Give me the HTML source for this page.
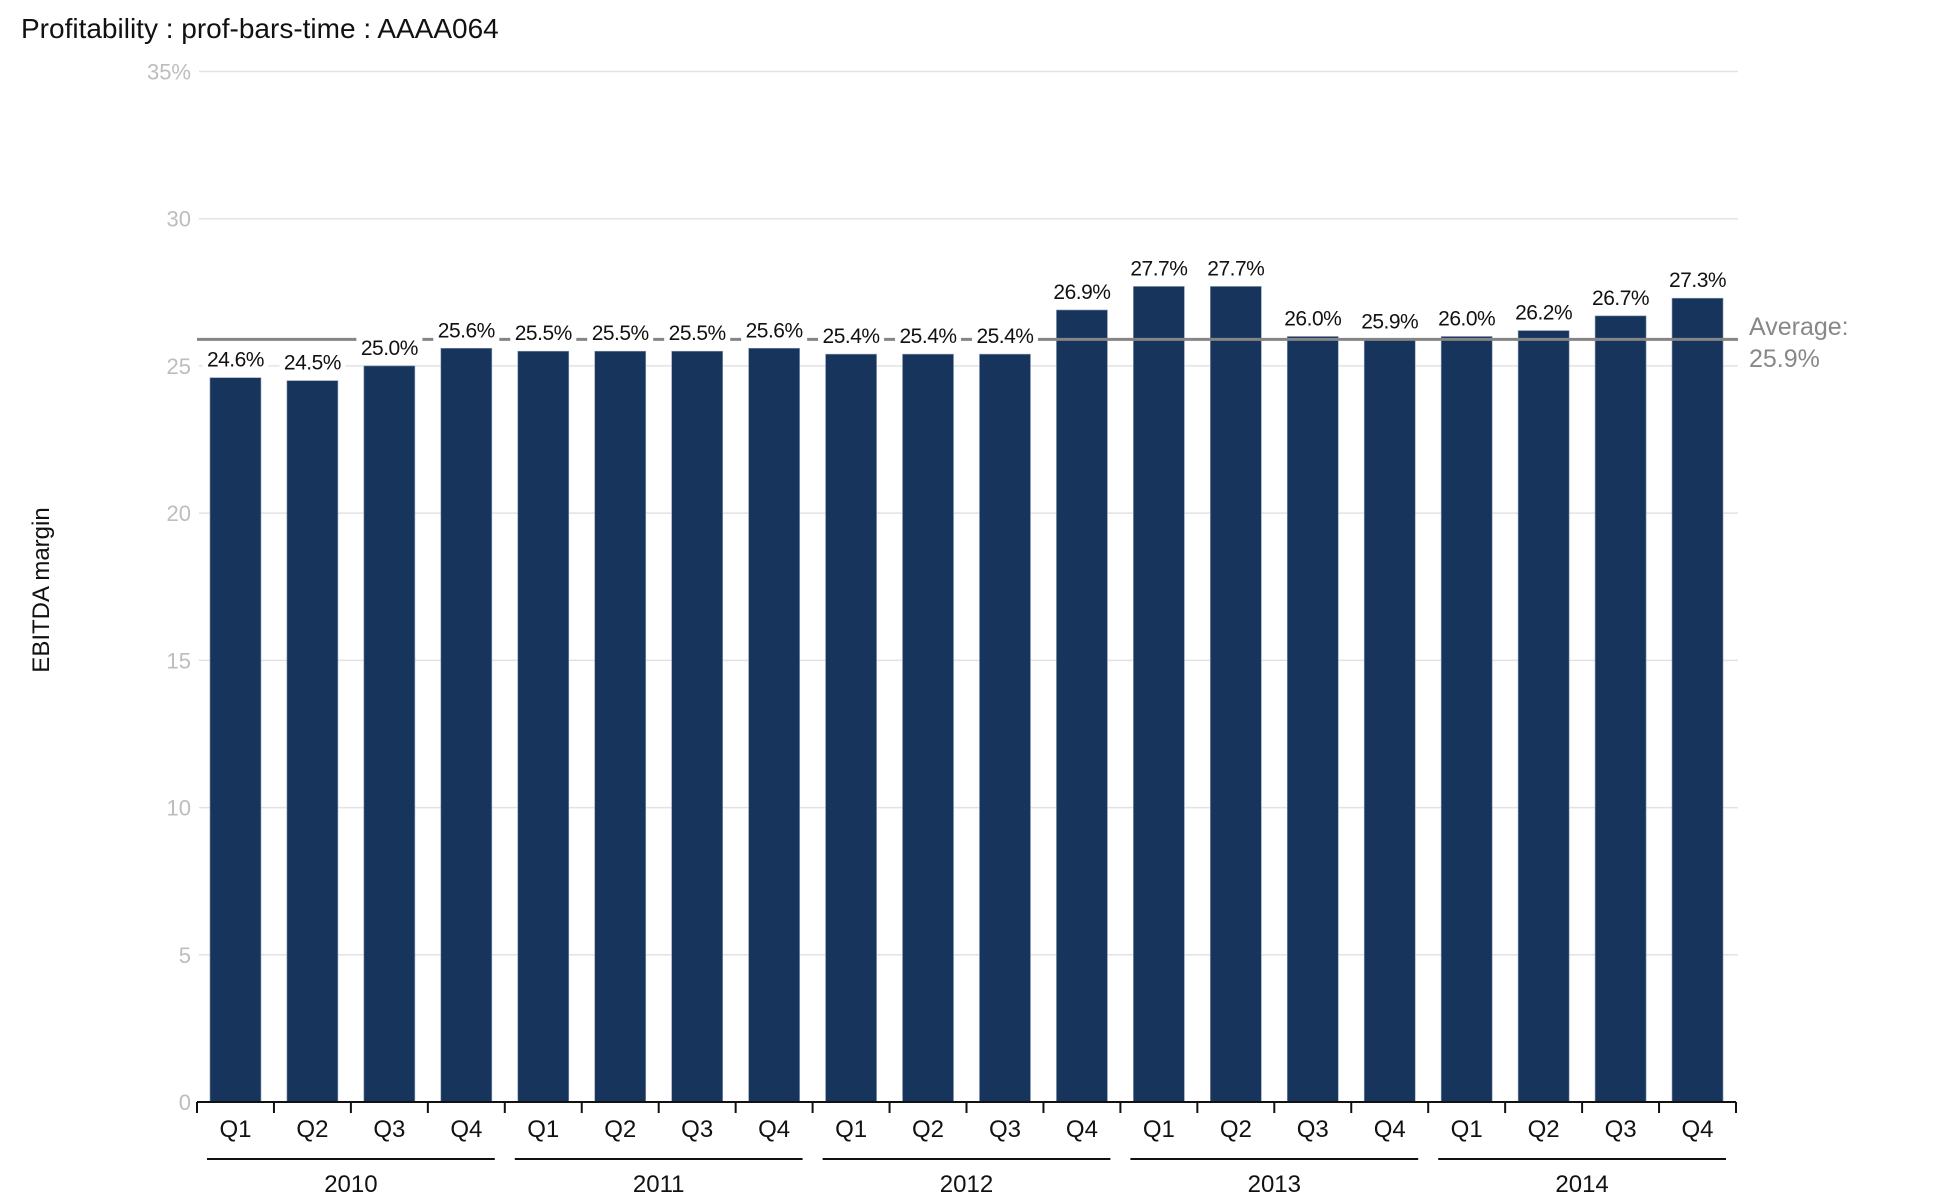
<!DOCTYPE html>
<html><head><meta charset="utf-8"><style>
html,body{margin:0;padding:0;background:#fff;}
svg{display:block;font-family:"Liberation Sans",sans-serif;}
</style></head><body>
<svg id="chart" width="1951" height="1204" viewBox="0 0 1951 1204" xmlns="http://www.w3.org/2000/svg">
<text x="21" y="38" font-size="28" fill="#111">Profitability : prof-bars-time : AAAA064</text>
<text transform="translate(49,590) rotate(-90)" text-anchor="middle" font-size="24" fill="#111">EBITDA margin</text>
<g id="grid"></g><g id="bars"></g><g id="avg"></g><g id="labels"></g><g id="xaxis"></g>
</svg>
<script>
const quarters=["Q1","Q2","Q3","Q4","Q1","Q2","Q3","Q4","Q1","Q2","Q3","Q4","Q1","Q2","Q3","Q4","Q1","Q2","Q3","Q4"];
const years=["2010","2011","2012","2013","2014"];
const values=[24.6,24.5,25.0,25.6,25.5,25.5,25.5,25.6,25.4,25.4,25.4,26.9,27.7,27.7,26.0,25.9,26.0,26.2,26.7,27.3];
const yTicks=[0,5,10,15,20,25,30,35];
const yTickLabels=["0","5","10","15","20","25","30","35%"];
const average=25.9;

const NS="http://www.w3.org/2000/svg";
const X0=197,X1=1736,Y0=1102,Ytop=71.5,YMAX=35;
const slot=(X1-X0)/values.length;
const y=v=>Y0-(v/YMAX)*(Y0-Ytop);
const xc=i=>X0+slot*(i+0.5);
function mk(tag,attrs,parent,text){const e=document.createElementNS(NS,tag);for(const k in attrs)e.setAttribute(k,attrs[k]);if(text!==undefined)e.textContent=text;parent.appendChild(e);return e;}
const grid=document.getElementById('grid'),bars=document.getElementById('bars'),avg=document.getElementById('avg'),labels=document.getElementById('labels'),xaxis=document.getElementById('xaxis');

yTicks.forEach((t,i)=>{
  if(t>0){const l=mk('line',{x1:X0+2,x2:X1+2,y1:y(t),y2:y(t),stroke:'#e2e2e2','stroke-width':1.5},grid);
  
  }
  const tx=mk('text',{x:191,y:y(t)+8,'text-anchor':'end','font-size':22,fill:'#bdbdbd'},grid,yTickLabels[i]);
  
  
});

const bw=51;
values.forEach((v,i)=>{
  const r=mk('rect',{x:xc(i)-bw/2,y:y(v),width:bw,height:Y0-y(v),fill:'#17355c',stroke:'#8a9bb3','stroke-width':0.6},bars);
  
  
});

const al=mk('line',{x1:X0,x2:X1+2,y1:y(average),y2:y(average),stroke:'#858585','stroke-width':3},avg);


const at1=mk('text',{x:1749,y:335,'font-size':25,fill:'#888'},avg,'Average:');


const at2=mk('text',{x:1749,y:367,'font-size':25,fill:'#888'},avg,average.toFixed(1)+'%');



values.forEach((v,i)=>{
  const by=y(v)-11;
  const bg=mk('rect',{x:xc(i)-33,y:by-21,width:66,height:25,fill:'#fff'},labels);
  
  
  const t=mk('text',{x:xc(i),y:by,'text-anchor':'middle','font-size':21,fill:'#111','letter-spacing':'-0.5'},labels,v.toFixed(1)+'%');
  
  
});

const ax=mk('line',{x1:X0,x2:X1,y1:Y0,y2:Y0,stroke:'#111','stroke-width':2},xaxis);


for(let i=0;i<=values.length;i++){
  const tk=mk('line',{x1:X0+slot*i,x2:X0+slot*i,y1:Y0,y2:Y0+11,stroke:'#111','stroke-width':2},xaxis);
  
  
}
quarters.forEach((q,i)=>{
  const t=mk('text',{x:xc(i),y:1137,'text-anchor':'middle','font-size':24,fill:'#111'},xaxis,q);
  
  
});
years.forEach((yr,j)=>{
  const s=X0+slot*4*j,e=X0+slot*4*(j+1);
  const l=mk('line',{x1:s+10,x2:e-10,y1:1159,y2:1159,stroke:'#111','stroke-width':2},xaxis);
  
  
  const t=mk('text',{x:(s+e)/2,y:1192,'text-anchor':'middle','font-size':24,fill:'#111'},xaxis,yr);
  
  
});
</script>
</body></html>
